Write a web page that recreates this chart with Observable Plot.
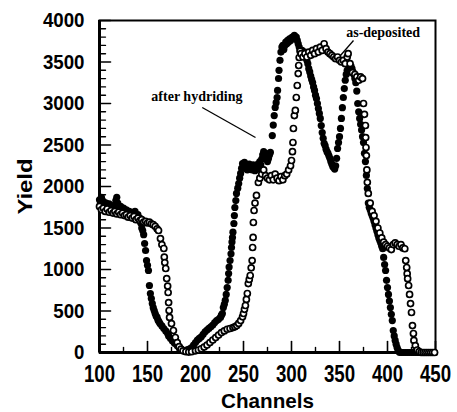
<!DOCTYPE html>
<html>
<head>
<meta charset="utf-8">
<script src="https://cdn.jsdelivr.net/npm/d3@7"></script>
<script src="https://cdn.jsdelivr.net/npm/@observablehq/plot@0.6"></script>
<style>
  html, body { margin: 0; padding: 0; background: #fff; }
  #chart svg { display: block; }
</style>
</head>
<body>
<div id="chart"></div>
<script>
// [channel, yield] — filled circles
const afterHydriding = [
[100,1840],[101,1800],[102,1870],[103,1780],[104,1820],[106,1760],[107,1800],[109,1740],[110,1790],[112,1720],
[113,1770],[115,1750],[117,1830],[118,1870],[119,1800],[121,1720],[122,1760],[124,1700],[125,1740],[127,1680],
[128,1720],[130,1660],[131,1700],[133,1650],[134,1690],[136,1640],[137,1700],[139,1620],[140,1660],[141,1600],
[142,1620],[143,1560],[144,1500],[145,1470],[146,1420],[147,1313],[148,1229],[149,1108],[150,1050],[151,988],
[152,807],[153,711],[154,650],[155,590],[156,540],[157,506],[158,470],[159,440],[160,422],[161,390],
[162,370],[163,349],[165,320],[167,289],[169,260],[171,229],[172,200],[174,169],[176,140],[178,115],
[179,108],[181,80],[183,55],[184,48],[186,30],[188,20],[190,25],[192,35],[194,45],[196,60],
[198,90],[200,120],[202,150],[204,170],[206,190],[208,220],[210,250],[212,270],[214,290],[216,310],
[218,330],[220,360],[222,385],[224,400],[226,422],[227,450],[228,470],[229,542],[230,580],[231,627],
[232,700],[233,783],[234,870],[234.5,952],[235,1030],[236,1108],[237,1190],[237.5,1265],[238,1330],[238.5,1385],
[239,1450],[240,1554],[240.5,1650],[241,1747],[242,1830],[242.7,1916],[244,1980],[245,2036],[246,2100],[247,2157],
[248,2220],[249,2277],[250,2250],[251,2290],[252,2220],[253,2260],[254,2200],[255,2240],[256,2270],[257,2210],
[258,2250],[259,2200],[260,2260],[261,2230],[262,2190],[263,2250],[264,2210],[265,2270],[266,2230],[267,2300],
[268,2260],[269,2330],[270,2380],[271,2420],[272,2360],[273,2400],[274,2340],[275,2300],[276,2337],[277,2380],
[278,2410],[280,2614],[281,2740],[282,2855],[283,2952],[284,3010],[285,3072],[285.5,3157],[286.5,3301],[287,3400],
[288,3520],[289,3620],[290,3680],[291,3700],[292,3650],[293,3700],[294,3740],[295,3720],[296,3760],[297,3740],
[298,3780],[299,3760],[300,3790],[301,3800],[302,3780],[303,3820],[304,3790],[305,3800],[306,3760],[307,3720],
[308,3680],[309,3640],[310,3600],[311,3640],[312,3600],[313,3580],[314,3620],[315,3580],[316,3520],[317,3480],
[318,3420],[319,3380],[320,3330],[321,3290],[322,3253],[323,3200],[324,3157],[325,3100],[326,3060],[327,3000],
[328,2940],[329,2880],[330,2820],[331,2735],[332,2650],[333,2580],[334,2520],[335,2494],[336,2450],[337,2420],
[338,2400],[339,2370],[340,2340],[341,2300],[342,2270],[343,2240],[344,2230],[345,2210],[346,2250],[347,2340],
[348,2458],[349,2530],[350,2600],[351,2700],[352,2820],[353,2950],[354,3072],[355,3180],[356,3280],[357,3350],
[358,3400],[359,3380],[360,3430],[361,3400],[362,3450],[363,3420],[364,3380],[365,3350],[366,3300],[367,3250],
[368,3150],[369,3000],[370,2900],[371,2820],[372,2750],[373,2680],[374,2600],[375,2530],[376,2400],[377,2300],
[378,2133],[379,1976],[380,1800],[381,1750],[382,1720],[383,1680],[384,1650],[385,1620],[386,1580],[387,1540],
[388,1500],[389,1460],[390,1420],[391,1380],[392,1350],[393,1320],[394,1280],[395,1250],[396,1145],[397,1060],
[398,988],[399,870],[400,783],[401,700],[402,620],[403,542],[404,460],[405,385],[406,265],[407,200],
[408,145],[409,100],[410,60],[411,30],[412,10],[413,0],[415,0],[417,0],[419,0],[421,0],
[423,0],[425,0],[427,0],[429,0],[431,0],[433,0],[435,0],[437,0],[439,0],[441,0],
[443,0],[445,0],[447,0],[449,0]
];

// [channel, yield] — open circles
const asDeposited = [
[100,1760],[102,1720],[104,1740],[106,1700],[108,1730],[110,1690],[112,1710],[114,1680],[116,1700],[118,1670],
[120,1690],[122,1660],[124,1680],[126,1650],[128,1660],[130,1630],[132,1650],[134,1620],[136,1640],[138,1600],
[140,1620],[142,1590],[144,1600],[146,1570],[148,1580],[150,1560],[152,1570],[154,1550],[156,1540],[158,1520],
[160,1490],[161.5,1470],[163.5,1373],[165,1300],[167,1253],[167.5,1150],[168,1084],[169,1012],[170,891],[171,800],
[171.5,723],[172,602],[172.5,506],[173,422],[175,349],[177,265],[179,181],[181,120],[183,70],[185,40],
[187,20],[190,10],[193,5],[196,10],[200,20],[203,30],[206,45],[209,65],[212,90],[215,120],
[218,150],[221,180],[224,210],[227,240],[230,260],[233,280],[236,289],[239,300],[241,310],[243,325],
[245,350],[247,385],[249,430],[250,470],[251,520],[252,566],[253,640],[254,711],[255,831],[256,880],
[257,928],[258,1020],[259,1108],[259.5,1265],[260,1386],[260.3,1566],[261,1711],[262,1800],[263.5,1892],[265.5,2048],
[267,2100],[269,2150],[271,2200],[273,2130],[275,2100],[277,2080],[279,2130],[281,2080],[283,2150],[285,2100],
[287,2070],[289,2120],[291,2080],[293,2130],[295,2150],[297,2200],[299,2250],[300,2313],[301,2420],[301.5,2530],
[302,2699],[303,2855],[304,2916],[305,3072],[306,3217],[307,3361],[307.5,3458],[308,3554],[309,3630],[310,3600],
[312,3560],[314,3600],[316,3560],[318,3620],[320,3580],[322,3640],[324,3600],[326,3660],[328,3620],[330,3680],
[332,3640],[334,3720],[336,3660],[338,3620],[340,3600],[342,3580],[344,3560],[346,3540],[348,3560],[350,3520],
[352,3500],[354,3520],[356,3480],[358,3560],[359,3600],[361,3480],[363.5,3373],[366,3350],[368,3320],[370,3280],
[372,3320],[374,3300],[375,3000],[376,2870],[377,2735],[377.3,2590],[377.6,2470],[378,2373],[378.5,2200],[379,2050],
[380,1916],[382,1800],[384,1700],[386,1650],[388,1580],[390,1500],[392,1440],[394,1380],[396,1330],[398,1300],
[400,1280],[402,1260],[404,1240],[406,1300],[408,1320],[410,1300],[412,1280],[414,1300],[416,1260],[418,1250],
[419,1108],[420,1024],[420.5,950],[421,890],[422,807],[423,700],[424,590],[425,482],[426,325],[427,229],
[427.5,145],[429,84],[431,30],[433,10],[435,0],[437,0],[439,0],[441,0],[443,0],[445,0],
[447,0],[449,0]
];

const xTickLabels = [100, 150, 200, 250, 300, 350, 400, 450];
const xMinorTicks = [125, 175, 225, 275, 325, 375, 425];
const yTickLabels = [0, 500, 1000, 1500, 2000, 2500, 3000, 3500, 4000];
const yMinorTicks = [100,200,300,400,600,700,800,900,1100,1200,1300,1400,1600,1700,1800,1900,
  2100,2200,2300,2400,2600,2700,2800,2900,3100,3200,3300,3400,3600,3700,3800,3900];

const annotations = [
  {label: "after hydriding", x: 154, y: 3090, x1: 207, y1: 2952, x2: 262.5, y2: 2590},
  {label: "as-deposited", x: 357, y: 3860, x1: 364.6, y1: 3759, x2: 351, y2: 3578}
];

const sansFont = '"Liberation Sans", Arial, sans-serif';
const serifFont = '"Liberation Serif", "Times New Roman", serif';

const tickShape = {draw(context, l) { context.moveTo(0, 0); context.lineTo(0, -l); }};

const chart = Plot.plot({
  width: 457,
  height: 412,
  marginLeft: 99,
  marginRight: 22,
  marginTop: 20,
  marginBottom: 60,
  style: {background: "#fff", color: "#000", fontFamily: sansFont},
  x: {domain: [100, 450]},
  y: {domain: [0, 4000]},
  marks: [
    Plot.axisX({ticks: xTickLabels, tickFormat: d => String(d), tickSize: 0, tickPadding: 13, fontSize: 23, fontWeight: "bold",
      fontFamily: sansFont, label: "Channels", labelAnchor: "center", labelArrow: "none", labelOffset: 55}),
    Plot.axisY({ticks: yTickLabels, tickFormat: d => String(d), tickSize: 0, tickPadding: 15, fontSize: 21, fontWeight: "bold",
      fontFamily: sansFont, label: "Yield", labelAnchor: "center", labelArrow: "none", labelOffset: 82}),
    // inward ticks
    Plot.vector(yTickLabels, {x: 100, y: d => d, length: 11, rotate: 90, anchor: "start", shape: tickShape, strokeWidth: 1.6}),
    Plot.vector(yMinorTicks, {x: 100, y: d => d, length: 6, rotate: 90, anchor: "start", shape: tickShape, strokeWidth: 1.4}),
    Plot.vector(xTickLabels, {x: d => d, y: 0, length: 11, rotate: 0, anchor: "start", shape: tickShape, strokeWidth: 1.6}),
    Plot.vector(xMinorTicks, {x: d => d, y: 0, length: 5, rotate: 0, anchor: "start", shape: tickShape, strokeWidth: 1.4}),
    Plot.frame({stroke: "#000", strokeWidth: 2}),
    Plot.ruleX([100], {strokeWidth: 3}),
    Plot.ruleY([0], {strokeWidth: 3}),
    Plot.dot(afterHydriding, {x: d => d[0], y: d => d[1], r: 3.6, fill: "#000", stroke: "none"}),
    Plot.dot(asDeposited, {x: d => d[0], y: d => d[1], r: 3.0, fill: "#fff", stroke: "#000", strokeWidth: 1.7}),
    Plot.link(annotations, {x1: "x1", y1: "y1", x2: "x2", y2: "y2", stroke: "#000", strokeWidth: 1.3}),
    Plot.text(annotations, {x: "x", y: "y", text: "label", textAnchor: "start", fontFamily: serifFont,
      fontWeight: "bold", fontSize: 14, fill: "#000"})
  ]
});

document.getElementById("chart").appendChild(chart);

// condense the gothic-style axis lettering to the reference widths
const svg = d3.select(chart);
svg.selectAll('g[aria-label="x-axis tick label"] text, g[aria-label="y-axis tick label"] text')
  .each(function() {
    const n = this.textContent.length;
    d3.select(this).attr("textLength", n * 10.4).attr("lengthAdjust", "spacingAndGlyphs");
  });
svg.selectAll('g[aria-label="x-axis label"] text').attr("font-size", 21).attr("textLength", 93).attr("lengthAdjust", "spacingAndGlyphs");
svg.selectAll('g[aria-label="y-axis label"] text').attr("font-size", 20).attr("textLength", 56).attr("lengthAdjust", "spacingAndGlyphs");
</script>
</body>
</html>
